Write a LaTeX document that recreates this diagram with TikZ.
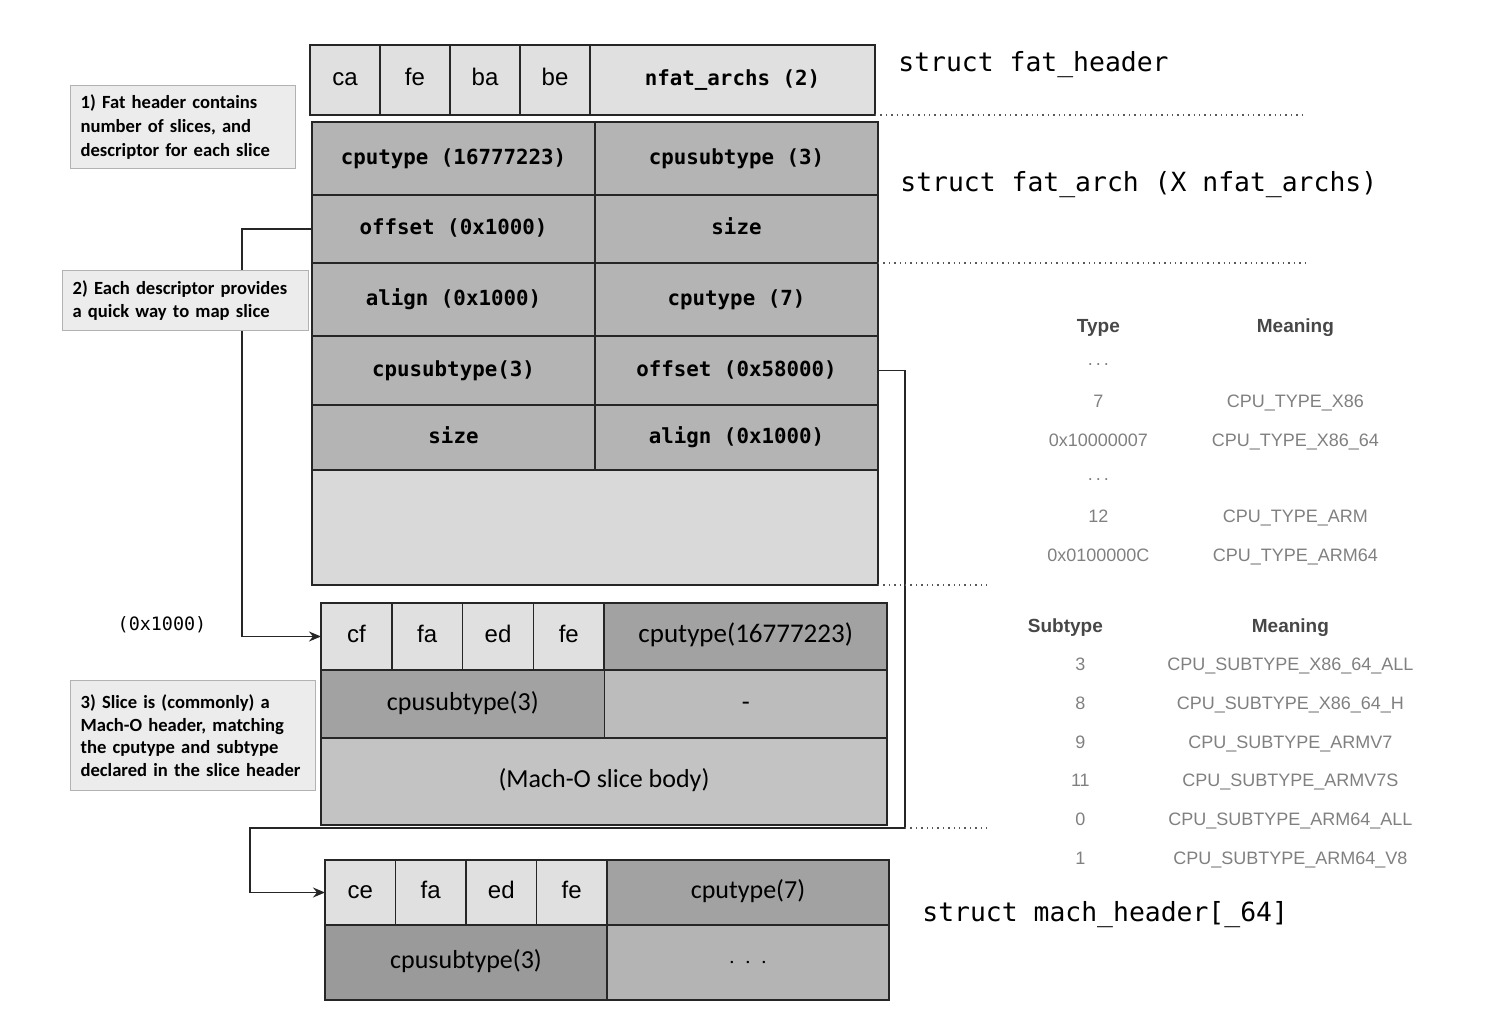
\documentclass[tikz,border=0pt]{standalone}
\usepackage{fontspec}
\setmainfont{Carlito}
\newfontfamily\codefont{DejaVu Sans Mono}
\newfontfamily\tabfont{Liberation Sans}
\usepackage{tikz}
\usetikzlibrary{arrows.meta}
\usetikzlibrary{positioning}
\usetikzlibrary{matrix,backgrounds}
\definecolor{bytefill}{HTML}{E0E0E0}
\definecolor{archfill}{HTML}{B4B4B4}
\definecolor{restfill}{HTML}{D9D9D9}
\definecolor{darkfill}{HTML}{A2A2A2}
\definecolor{midfill}{HTML}{BCBCBC}
\definecolor{bodyfill}{HTML}{C3C3C3}
\definecolor{notefill}{HTML}{ECECEC}
\definecolor{noteline}{HTML}{B2B2B2}
\tikzstyle{cell}=[draw=black!85,line width=0.8pt,anchor=north west,inner sep=0pt,outer sep=0pt,text height=9pt,text depth=3pt]
\tikzstyle{hbyte}=[cell,fill=bytefill,minimum height=35pt,font=\tabfont\fontsize{12}{14}\selectfont]
\tikzstyle{arch}=[cell,fill=archfill,minimum width=141.5pt,font=\codefont\bfseries\fontsize{10.4}{12}\selectfont]
\tikzstyle{sfield}=[cell,font=\fontsize{13}{15}\selectfont]
\tikzstyle{note}=[draw=noteline,fill=notefill,line width=0.6pt,anchor=north west,align=left,inner xsep=5pt,inner ysep=0pt,font=\bfseries\fontsize{9.3}{11.8}\selectfont]
\tikzstyle{structlbl}=[anchor=west,inner sep=0pt,font=\codefont\fontsize{13.2}{15}\selectfont]
\tikzstyle{link}=[line width=0.8pt,black!85,-{Stealth[length=6pt,width=5pt]}]
\tikzstyle{sep}=[dotted,line width=0.7pt,black!65]
\tikzstyle{tabcell}=[inner sep=0pt,minimum height=18.5pt,text=black!50,font=\tabfont\fontsize{9}{11}\selectfont]
\tikzstyle{tabhead}=[text=black!72,font=\tabfont\bfseries\fontsize{9.5}{11}\selectfont]
\begin{document}
\begin{tikzpicture}[x=0.5pt,y=-0.5pt]
\useasboundingbox (0,0) rectangle (1498,1026);

\node[hbyte,minimum width=35pt] (ca) at (310,45) {ca};
\node[hbyte,minimum width=35pt] (fe) at (ca.north east) {fe};
\node[hbyte,minimum width=35pt] (ba) at (fe.north east) {ba};
\node[hbyte,minimum width=35pt] (be) at (ba.north east) {be};
\node[hbyte,minimum width=142.5pt,font=\codefont\bfseries\fontsize{10.4}{12}\selectfont] (nfat) at (be.north east) {nfat\_archs (2)};

\node[arch,minimum height=36.5pt] (cpu1) at (312,122) {cputype (16777223)};
\node[arch,minimum height=36.5pt] (sub1) at (cpu1.north east) {cpusubtype (3)};
\node[arch,minimum height=34pt] (off1) at (cpu1.south west) {offset (0x1000)};
\node[arch,minimum height=34pt] (size1) at (off1.north east) {size};
\node[arch,minimum height=36.5pt] (align1) at (off1.south west) {align (0x1000)};
\node[arch,minimum height=36.5pt] (cpu2) at (align1.north east) {cputype (7)};
\node[arch,minimum height=34.5pt] (sub2) at (align1.south west) {cpusubtype(3)};
\node[arch,minimum height=34.5pt] (off2) at (sub2.north east) {offset (0x58000)};
\node[arch,minimum height=32.5pt] (size2) at (sub2.south west) {size};
\node[arch,minimum height=32.5pt] (align2) at (size2.north east) {align (0x1000)};
\node[cell,fill=restfill,minimum width=283pt,minimum height=57.5pt] (rest) at (size2.south west) {};

\node[hbyte,minimum width=35.4pt,minimum height=33.5pt] (cf) at (321,603) {cf};
\node[hbyte,minimum width=35.4pt,minimum height=33.5pt] (fa1) at (cf.north east) {fa};
\node[hbyte,minimum width=35.4pt,minimum height=33.5pt] (ed1) at (fa1.north east) {ed};
\node[hbyte,minimum width=35.4pt,minimum height=33.5pt] (fe1) at (ed1.north east) {fe};
\node[sfield,fill=darkfill,minimum width=141.5pt,minimum height=33.5pt,font=\fontsize{13.5}{15}\selectfont] (scpu1) at (fe1.north east) {cputype(16777223)};
\node[sfield,fill=darkfill,minimum width=141.8pt,minimum height=34pt] (ssub1) at (cf.south west) {cpusubtype(3)};
\node[sfield,fill=midfill,minimum width=141.2pt,minimum height=34pt] (sdash) at (ssub1.north east) {-};
\node[sfield,fill=bodyfill,minimum width=283pt,minimum height=43.5pt] (body) at (ssub1.south west) {(Mach-O slice body)};

\node[hbyte,minimum width=35.25pt,minimum height=32.5pt] (ce) at (325,860) {ce};
\node[hbyte,minimum width=35.25pt,minimum height=32.5pt] (fa2) at (ce.north east) {fa};
\node[hbyte,minimum width=35.25pt,minimum height=32.5pt] (ed2) at (fa2.north east) {ed};
\node[hbyte,minimum width=35.25pt,minimum height=32.5pt] (fe2) at (ed2.north east) {fe};
\node[sfield,fill=darkfill,minimum width=141pt,minimum height=32.5pt] (scpu2) at (fe2.north east) {cputype(7)};
\node[sfield,fill=darkfill!95!black,minimum width=141pt,minimum height=37.5pt] (ssub2) at (ce.south west) {cpusubtype(3)};
\node[sfield,fill=archfill,minimum width=141pt,minimum height=37.5pt] (sdots) at (ssub2.north east) {$\cdot\,\cdot\,\cdot$};

\coordinate (drop) at (905,828);
\coordinate (bend) at (250,828);
\begin{scope}[on background layer]
\draw[link] (off1.west) -- ++(-70,0) |- (cf.west);
\draw[link] (off2.east) -| (drop) -- (bend) |- (ce.west);
\end{scope}
\draw[sep] (nfat.south east) -- ++(430,0);
\draw[sep] (size1.south east) -- ++(427,0);
\draw[sep] (rest.south east) -- ++(112,0);
\draw[sep] (drop) -- ++(85,0);

\node[note,text width=102.5pt,minimum height=41.5pt] (note1) at (70,85) {1) Fat header contains\\number of slices, and\\descriptor for each slice};
\node[note,text width=113pt,minimum height=30pt] (note2) at (62,270) {2) Each descriptor provides\\a quick way to map slice};
\node[note,text width=112.5pt,minimum height=55pt,font=\bfseries\fontsize{9.3}{11.2}\selectfont] (note3) at (70,680) {3) Slice is (commonly) a\\Mach-O header, matching\\the cputype and subtype\\declared in the slice header};
\node[font=\codefont\fontsize{9.2}{11}\selectfont] (offlbl) at (162,625) {(0x1000)};

\node[structlbl] (fhlbl) at (898,65) {struct fat\_header};
\node[structlbl] (falbl) at (900,185) {struct fat\_arch (X nfat\_archs)};
\node[structlbl] (mhlbl) at (922,915) {struct mach\_header[\_64]};

\matrix (types) [matrix of nodes,anchor=north west,inner sep=0pt,nodes={tabcell},
  column 1/.style={nodes={minimum width=75pt}},column 2/.style={nodes={minimum width=122pt}},
  row 1/.style={nodes={tabhead}}] at (1023,308.5) {
Type & Meaning \\
{.\,.\,.} & \\
7 & CPU\_TYPE\_X86 \\
0x10000007 & CPU\_TYPE\_X86\_64 \\
{.\,.\,.} & \\
12 & CPU\_TYPE\_ARM \\
0x0100000C & CPU\_TYPE\_ARM64 \\
};
\matrix (subtypes) [matrix of nodes,anchor=north west,inner sep=0pt,nodes={tabcell},
  column 1/.style={nodes={minimum width=70pt}},column 2/.style={nodes={minimum width=140pt}},
  row 1/.style={nodes={tabhead}}] at (1010,608.5) {
Subtype\hspace{15pt} & Meaning \\
3 & CPU\_SUBTYPE\_X86\_64\_ALL \\
8 & CPU\_SUBTYPE\_X86\_64\_H \\
9 & CPU\_SUBTYPE\_ARMV7 \\
11 & CPU\_SUBTYPE\_ARMV7S \\
0 & CPU\_SUBTYPE\_ARM64\_ALL \\
1 & CPU\_SUBTYPE\_ARM64\_V8 \\
};
\end{tikzpicture}
\end{document}
